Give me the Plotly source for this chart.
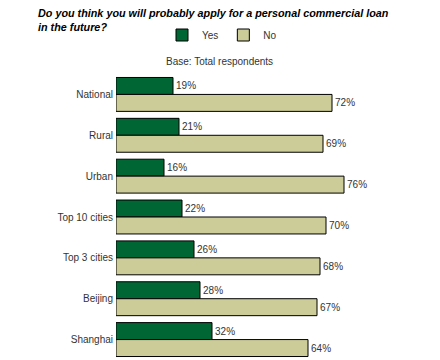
import plotly.graph_objects as go

categories = ["National", "Rural", "Urban", "Top 10 cities", "Top 3 cities", "Beijing", "Shanghai"]
yes_values = [19, 21, 16, 22, 26, 28, 32]
no_values = [72, 69, 76, 70, 68, 67, 64]

FONT = "Arial, Liberation Sans, sans-serif"
TXT = "#333333"
L, R, T, B = 116, 24, 74, 0
PH = 360 - T - B
PW = 440 - L - R

def px_x(p):
    return (p - L) / PW

def px_y(p):
    return 1 + (T - p) / PH

fig = go.Figure()
fig.add_trace(go.Bar(
    name="Yes", y=categories, x=yes_values, orientation="h",
    marker=dict(color="#006633", line=dict(color="black", width=1)),
    texttemplate="%{x}%", textposition="outside",
    textfont=dict(family=FONT, size=10, color=TXT), cliponaxis=False,
))
fig.add_trace(go.Bar(
    name="No", y=categories, x=no_values, orientation="h",
    marker=dict(color="#CCCC99", line=dict(color="black", width=1)),
    texttemplate="%{x}%", textposition="outside",
    textfont=dict(family=FONT, size=10, color=TXT), cliponaxis=False,
))

fig.update_layout(
    width=440, height=360,
    margin=dict(l=L, r=R, t=T, b=B, autoexpand=False),
    paper_bgcolor="white", plot_bgcolor="white",
    barmode="group", bargap=0.17, bargroupgap=0,
    font=dict(family=FONT, size=10, color=TXT),
    showlegend=True,
    legend=dict(
        orientation="h", x=px_x(222), xanchor="center", y=px_y(35), yanchor="middle",
        font=dict(family=FONT, size=10, color=TXT), itemwidth=30,
        traceorder="normal", bgcolor="rgba(0,0,0,0)",
    ),
    xaxis=dict(range=[0, 100], visible=False, fixedrange=True),
    yaxis=dict(autorange="reversed", showline=False, showgrid=False, ticks="",
               tickfont=dict(family=FONT, size=10, color=TXT), ticklabelstandoff=2),
    annotations=[
        dict(text="<b><i>Do you think you will probably apply for a personal commercial loan<br>in the future?</i></b>",
             x=px_x(36), xref="paper", xanchor="left", align="left",
             y=px_y(5), yref="paper", yanchor="top", showarrow=False,
             font=dict(family=FONT, size=10.8, color="black")),
        dict(text="Base: Total respondents", x=px_x(219), xref="paper", xanchor="center",
             y=px_y(61), yref="paper", yanchor="middle", showarrow=False,
             font=dict(family=FONT, size=10, color=TXT)),
    ],
)

fig.write_html("out.html", config={"displayModeBar": False},
               post_script="document.body.style.margin='0';")
